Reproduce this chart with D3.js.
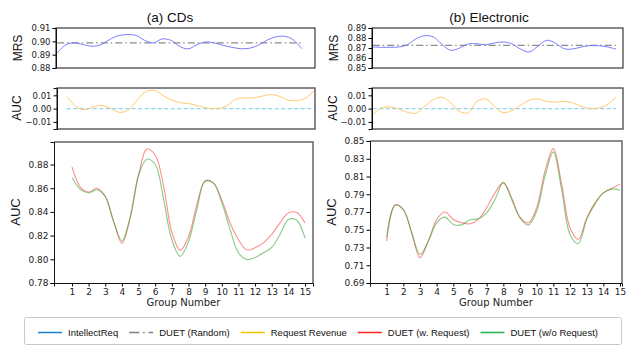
<!DOCTYPE html>
<head>
<meta charset="utf-8">
<style type="text/css">
body { margin: 0; background: white; }
.tick text { font-family: "DejaVu Sans", sans-serif; fill: #222; }
.lab { font-family: "Liberation Sans", Arial, sans-serif; fill: #111; }
</style>
</head>
<body>
<script src="https://d3js.org/d3.v7.min.js"></script>
<script type="text/javascript">
  // group positions read at half steps
  var groups = [1, 1.5, 2, 2.5, 3, 3.5, 4, 4.5, 5, 5.5, 6, 6.5, 7, 7.5, 8, 8.5, 9, 9.5, 10, 10.5, 11, 11.5, 12, 12.5, 13, 13.5, 14, 14.5, 15];
  var groupTicks = [1, 2, 3, 4, 5, 6, 7, 8, 9, 10, 11, 12, 13, 14, 15];

  // (a) CDs
  var cdsMrs = [0.8913, 0.8975, 0.8988, 0.8975, 0.8963, 0.8975, 0.9013, 0.9043, 0.905, 0.9045, 0.9008, 0.8988, 0.9018, 0.9008, 0.8963,
                0.8943, 0.8975, 0.8995, 0.8988, 0.897, 0.8955, 0.8945, 0.8948, 0.897, 0.9008, 0.9033, 0.9038, 0.9013, 0.8945];
  var cdsRandom = 0.8988;
  var cdsRevenue = [0.0093, 0.0018, -0.0008, 0.0013, 0.0023, 0, -0.0028, -0.0008, 0.0068, 0.013, 0.0135, 0.0093, 0.006, 0.0043, 0.0035,
                    0.0018, 0.0003, 0, 0.0018, 0.0068, 0.008, 0.008, 0.0093, 0.0105, 0.0093, 0.0063, 0.006, 0.008, 0.0138];
  var cdsWith = [0.878, 0.861, 0.8567, 0.860, 0.853, 0.832, 0.8135, 0.835, 0.871, 0.893, 0.888, 0.862, 0.823, 0.8075, 0.819,
                 0.846, 0.866, 0.8645, 0.850, 0.8307, 0.8167, 0.808, 0.8097, 0.8139, 0.821, 0.8307, 0.839, 0.8395, 0.8307];
  var cdsWithout = [0.869, 0.859, 0.856, 0.8587, 0.853, 0.832, 0.8155, 0.836, 0.871, 0.8845, 0.880, 0.851, 0.8164, 0.8025, 0.815,
                    0.842, 0.866, 0.8643, 0.848, 0.825, 0.8055, 0.7998, 0.8015, 0.8055, 0.810, 0.821, 0.8335, 0.833, 0.818];

  // (b) Electronic
  var elMrs = [0.871, 0.8707, 0.8707, 0.871, 0.8733, 0.8793, 0.8823, 0.881, 0.8733, 0.8677, 0.87, 0.874, 0.8743, 0.8733, 0.875,
               0.876, 0.8743, 0.869, 0.866, 0.8717, 0.8777, 0.875, 0.8693, 0.869, 0.871, 0.8723, 0.8723, 0.871, 0.869];
  var elRandom = 0.8727;
  var elRevenue = [-0.0045, 0.0005, 0.0013, -0.0003, -0.0028, -0.0033, 0.0018, 0.0068, 0.0085, 0.0043, -0.0022, -0.003, 0.0055, 0.0073, 0.0018,
                   -0.003, -0.0015, 0.0025, 0.0063, 0.0073, 0.0055, 0.0048, 0.0055, 0.0043, 0.0018, 0, 0.0005, 0.003, 0.0088];
  var elWith = [0.7372, 0.778, 0.7728, 0.7466, 0.7185, 0.7372, 0.7616, 0.770, 0.7616, 0.7578, 0.7567, 0.7616, 0.7747, 0.7916, 0.8028,
                0.786, 0.7642, 0.7578, 0.7747, 0.816, 0.8414, 0.801, 0.7522, 0.739, 0.7634, 0.7803, 0.7916, 0.7964, 0.8017];
  var elWithout = [0.7418, 0.7775, 0.7728, 0.7466, 0.7222, 0.7372, 0.7578, 0.7642, 0.756, 0.7555, 0.7612, 0.7623, 0.7691, 0.784, 0.8036,
                   0.784, 0.7634, 0.7552, 0.771, 0.8104, 0.8377, 0.7953, 0.7447, 0.7342, 0.7616, 0.7792, 0.7916, 0.796, 0.7946];

  var mrsTicksCds = [0.88, 0.89, 0.90, 0.91];
  var mrsTicksEl = [0.85, 0.86, 0.87, 0.88, 0.89];
  var aucSmallTicks = [-0.01, 0, 0.01];
  var aucTicksCds = [0.78, 0.80, 0.82, 0.84, 0.86, 0.88];
  var aucTicksEl = [0.69, 0.71, 0.73, 0.75, 0.77, 0.79, 0.81, 0.83, 0.85];

  var legendLabels = ['IntellectReq', 'DUET (Random)', 'Request Revenue', 'DUET (w. Request)', 'DUET (w/o Request)'];
  var legendColors = ['#1f7fd0', '#808080', '#ffc000', '#ff2020', '#22b14c'];

  var svg = d3.select('body').append('svg')
          .attr('width', 626)
          .attr('height', 347);

  var curve = d3.curveCatmullRom.alpha(0.5);

  function frame(x0, x1, y0, y1, color, w) {
    svg.append('rect')
        .attr('x', x0).attr('y', y0)
        .attr('width', x1 - x0).attr('height', y1 - y0)
        .attr('fill', 'none')
        .attr('stroke', color)
        .attr('stroke-width', w);
  }

  function yAxis(y, x0, ticks, fs) {
    var g = svg.append('g')
        .attr('transform', 'translate(' + x0 + ',0)')
        .call(d3.axisLeft(y).tickValues(ticks).tickFormat(d3.format('.2f')).tickSize(3.5).tickPadding(2));
    g.select('.domain').attr('stroke', '#111');
    g.selectAll('.tick text').attr('font-size', fs);
    return g;
  }

  function line(x, y, xs, ys, color, width, dash, op) {
    var pts = xs.map(function(d, i){ return [d, ys[i]]; });
    svg.append('path')
        .datum(pts)
        .attr('fill', 'none')
        .attr('stroke', color)
        .attr('stroke-width', width)
        .attr('stroke-opacity', op)
        .attr('stroke-dasharray', dash)
        .attr('d', d3.line().curve(curve)
            .x(function(d){ return x(d[0]); })
            .y(function(d){ return y(d[1]); }));
  }

  function vlabel(text, x, y, fs) {
    svg.append('text').attr('class', 'lab')
        .attr('transform', 'translate(' + x + ',' + y + ') rotate(-90)')
        .attr('text-anchor', 'middle')
        .attr('dy', '0.35em')
        .attr('font-size', fs)
        .text(text);
  }

  function column(o) {
    // MRS panel
    var xm = d3.scaleLinear().domain(o.mrsDom).range([o.mx0, o.x1]);
    var ym = d3.scaleLinear().domain(o.mrsY).range([68, 28]);
    line(xm, ym, [1, 15], [o.random, o.random], '#808080', 1.2, '7,3,1.5,3', 0.9);
    line(xm, ym, groups, o.mrs, '#6e6eff', 1, null, 0.9);
    frame(o.mx0, o.x1, 28, 68, '#111', 1);
    yAxis(ym, o.mx0, o.mrsTicks, 8.5);
    vlabel('MRS', o.labX, 48, 12);

    // revenue panel
    var xa = d3.scaleLinear().domain(o.aucDom).range([o.ax0, o.x1]);
    var ya = d3.scaleLinear().domain([-0.0153, 0.0155]).range([129, 88]);
    line(xa, ya, [1, 15], [0, 0], '#8fd6f2', 1.2, '4,2.5', 1);
    line(xa, ya, groups, o.revenue, '#ffc45c', 1, null, 0.9);
    frame(o.ax0, o.x1, 88, 129, '#555', 1.4);
    yAxis(ya, o.ax0, aucSmallTicks, 8.5);
    vlabel('AUC', o.labX - 1, 108, 12);

    // AUC panel
    var xb = d3.scaleLinear().domain(o.bDom).range([o.bx0, o.bx1]);
    var yb = d3.scaleLinear().domain(o.bY).range([283, o.bTop]);
    line(xb, yb, groups, o.with, '#ff3030', 1.1, null, 0.55);
    line(xb, yb, groups, o.without, '#20a020', 1.1, null, 0.55);
    svg.append('path')
        .attr('d', 'M' + o.bx0 + ',' + o.bTop + 'H' + o.bx1 + 'V283')
        .attr('fill', 'none').attr('stroke', '#666').attr('stroke-width', 1.5);
    yAxis(yb, o.bx0, o.bTicks, 9);
    var gx = svg.append('g')
        .attr('transform', 'translate(0,283)')
        .call(d3.axisBottom(xb).tickValues(groupTicks).tickSize(3.5).tickPadding(2));
    gx.select('.domain').attr('stroke', '#111');
    gx.selectAll('.tick text').attr('font-size', 9);
    vlabel('AUC', o.labX - 3, 212, 13);

    svg.append('text')
        .attr('x', (o.bx0 + o.bx1) / 2).attr('y', 306)
        .attr('text-anchor', 'middle')
        .attr('font-family', 'DejaVu Sans').attr('font-size', 10).attr('fill', '#222')
        .text('Group Number');
    svg.append('text').attr('class', 'lab')
        .attr('x', o.titleX).attr('y', 21.5)
        .attr('text-anchor', 'middle')
        .attr('font-size', 13.5)
        .text(o.title);
  }

  column({title: '(a) CDs', titleX: 170, labX: 18, x1: 315,
          mx0: 56, mrsDom: [0.93, 15.76], mrsY: [0.88, 0.91], mrsTicks: mrsTicksCds, mrs: cdsMrs, random: cdsRandom,
          ax0: 57, aucDom: [0.45, 15.02], revenue: cdsRevenue,
          bx0: 54, bx1: 313, bTop: 142, bDom: [-0.08, 15.48], bY: [0.78, 0.899], bTicks: aucTicksCds,
          with: cdsWith, without: cdsWithout});

  column({title: '(b) Electronic', titleX: 489, labX: 334, x1: 623,
          mx0: 372, mrsDom: [0.96, 15.4], mrsY: [0.85, 0.89], mrsTicks: mrsTicksEl, mrs: elMrs, random: elRandom,
          ax0: 372, aucDom: [0.96, 15.4], revenue: elRevenue,
          bx0: 370, bx1: 622, bTop: 141, bDom: [0, 15.12], bY: [0.69, 0.85], bTicks: aucTicksEl,
          with: elWith, without: elWithout});

  // Legend
  svg.append('rect')
      .attr('x', 24.5).attr('y', 317.5)
      .attr('width', 597).attr('height', 27)
      .attr('rx', 2)
      .attr('fill', 'white')
      .attr('stroke', '#c8c8c8');

  var lx = 38;
  legendLabels.forEach(function(name, i){
    svg.append('line')
        .attr('x1', lx).attr('x2', lx + 24)
        .attr('y1', 332.5).attr('y2', 332.5)
        .attr('stroke', legendColors[i])
        .attr('stroke-width', 1.5)
        .attr('stroke-dasharray', i == 1 ? '10,4,1.5,4' : null);
    var t = svg.append('text').attr('class', 'lab')
        .attr('x', lx + 30).attr('y', 336)
        .attr('font-size', 9.5)
        .text(name);
    lx = lx + 30 + t.node().getComputedTextLength() + 11;
  });
</script>
</body>
